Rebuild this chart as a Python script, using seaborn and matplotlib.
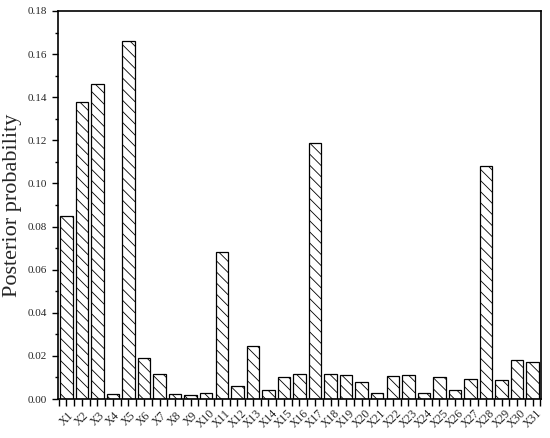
import matplotlib
matplotlib.use("Agg")
import matplotlib.pyplot as plt
import seaborn as sns
import pandas as pd
from matplotlib.ticker import MultipleLocator

categories = [f"X{i}" for i in range(1, 32)]
values = [0.0849, 0.1378, 0.1460, 0.0025, 0.1662, 0.0190, 0.0115, 0.0025, 0.0020, 0.0030,
          0.0682, 0.0062, 0.0247, 0.0040, 0.0102, 0.0115, 0.1186, 0.0115, 0.0112, 0.0078,
          0.0030, 0.0108, 0.0110, 0.0030, 0.0102, 0.0040, 0.0095, 0.1082, 0.0090, 0.0183,
          0.0170]

sns.set_style("ticks")
plt.rcParams['font.family'] = ['Liberation Serif', 'DejaVu Serif']
plt.rcParams['hatch.color'] = '#505050'
plt.rcParams['hatch.linewidth'] = 0.6

df = pd.DataFrame({"var": categories, "prob": values})

fig = plt.figure(figsize=(5.5, 4.38), dpi=100)
ax = fig.add_axes([0.105, 0.089, 0.879, 0.886])
sns.barplot(data=df, x="var", y="prob", color="white", edgecolor="black",
            linewidth=0.9, width=0.8, ax=ax, saturation=1)
for p in ax.patches:
    p.set_hatch('\\\\\\')
    p.set_facecolor('white')

ax.set_ylim(0, 0.18)
ax.set_xlim(-0.55, 30.55)
ax.set_yticks([i * 0.02 for i in range(10)])
ax.set_yticklabels([f"{i*0.02:.2f}" for i in range(10)], fontsize=8)
ax.yaxis.set_minor_locator(MultipleLocator(0.01))
ax.xaxis.set_minor_locator(MultipleLocator(0.5))
ax.tick_params(axis='y', which='major', direction='out', length=4.5, width=1, color='black')
ax.tick_params(axis='y', which='minor', direction='out', length=2.5, width=1, color='black')
ax.tick_params(axis='x', which='both', direction='out', length=5, width=1, color='black', pad=9)
plt.setp(ax.get_xticklabels(), rotation=45, ha='center', va='center', fontsize=8.5)
ax.set_xlabel("")
ax.set_ylabel("Posterior probability", fontsize=16)
for s in ax.spines.values():
    s.set_visible(True)
    s.set_linewidth(1.2)
    s.set_color('black')

fig.savefig("out.png", dpi=100)
